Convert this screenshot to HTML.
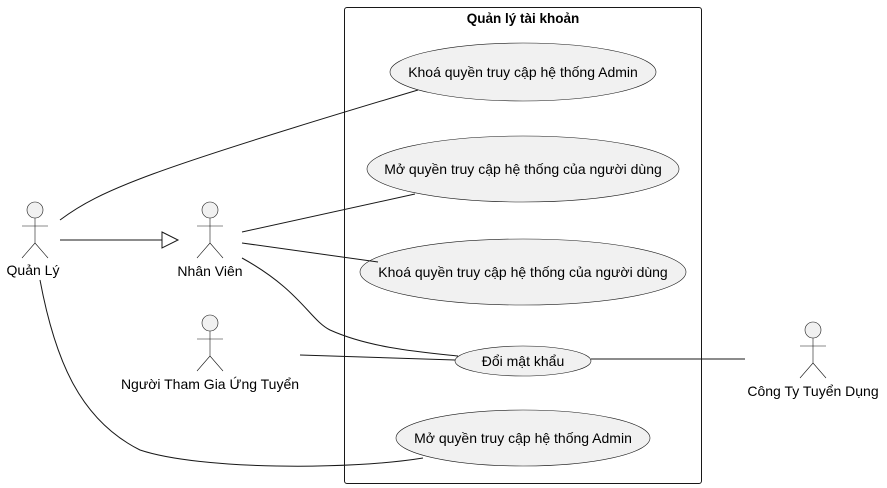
<!DOCTYPE html>
<html><head><meta charset="utf-8"><style>
html,body{margin:0;padding:0;background:#fff;}
svg{display:block;font-family:"Liberation Sans",sans-serif;}
</style></head><body>
<svg width="887" height="488" viewBox="0 0 887 488" xmlns="http://www.w3.org/2000/svg">
<rect x="344.5" y="7.5" width="357" height="476" rx="2.5" fill="#fff" stroke="#181818" stroke-width="1"/>
<text x="523" y="23" font-size="13.5" font-weight="bold" text-anchor="middle">Quản lý tài khoản</text>
<g fill="#F1F1F1" stroke="#181818" stroke-width="0.6">
<ellipse cx="523" cy="72" rx="133" ry="29"/>
<ellipse cx="523" cy="169" rx="156" ry="33"/>
<ellipse cx="523" cy="272" rx="163" ry="33"/>
<ellipse cx="523" cy="361" rx="68" ry="15"/>
<ellipse cx="523" cy="438" rx="127" ry="28"/>
</g>
<g font-size="14" text-anchor="middle" fill="#000">
<text x="523" y="77">Khoá quyền truy cập hệ thống Admin</text>
<text x="523" y="174">Mở quyền truy cập hệ thống của người dùng</text>
<text x="523" y="277">Khoá quyền truy cập hệ thống của người dùng</text>
<text x="523" y="366">Đổi mật khẩu</text>
<text x="523" y="443">Mở quyền truy cập hệ thống Admin</text>
</g>
<g fill="none" stroke="#181818" stroke-width="1">
<path d="M60,220 C100,190 150,170 418,90"/>
<path d="M60,240 L162,240"/>
<polygon points="162,232 178,240 162,248" fill="#fff"/>
<path d="M242,232 L415,194"/>
<path d="M242,243 L378,262"/>
<path d="M242,258 C300,290 310,320 330,330 C370,348 420,352 458,356"/>
<path d="M300,355 L455,360"/>
<path d="M591,359 L745,359"/>
<path d="M40,280 C55,360 80,420 140,450 C200,470 350,470 423,458"/>
</g>
<g fill="#F1F1F1" stroke="#181818" stroke-width="0.6">
<circle cx="35" cy="210" r="8"/>
<circle cx="210" cy="210" r="8"/>
<circle cx="210" cy="323" r="8"/>
<circle cx="813" cy="330" r="8"/>
</g>
<g fill="none" stroke="#181818" stroke-width="0.6">
<path d="M35,218 V243 M22,226 H48 M35,243 L22,258 M35,243 L48,258"/>
<path d="M210,218 V243 M197,226 H223 M210,243 L197,258 M210,243 L223,258"/>
<path d="M210,331 V356 M197,339 H223 M210,356 L197,371 M210,356 L223,371"/>
<path d="M813,338 V363 M800,346 H826 M813,363 L800,378 M813,363 L826,378"/>
</g>
<g font-size="14" text-anchor="middle" fill="#000">
<text x="33" y="275">Quản Lý</text>
<text x="210" y="276">Nhân Viên</text>
<text x="210" y="389">Người Tham Gia Ứng Tuyển</text>
<text x="813" y="396">Công Ty Tuyển Dụng</text>
</g>
</svg>
</body></html>
